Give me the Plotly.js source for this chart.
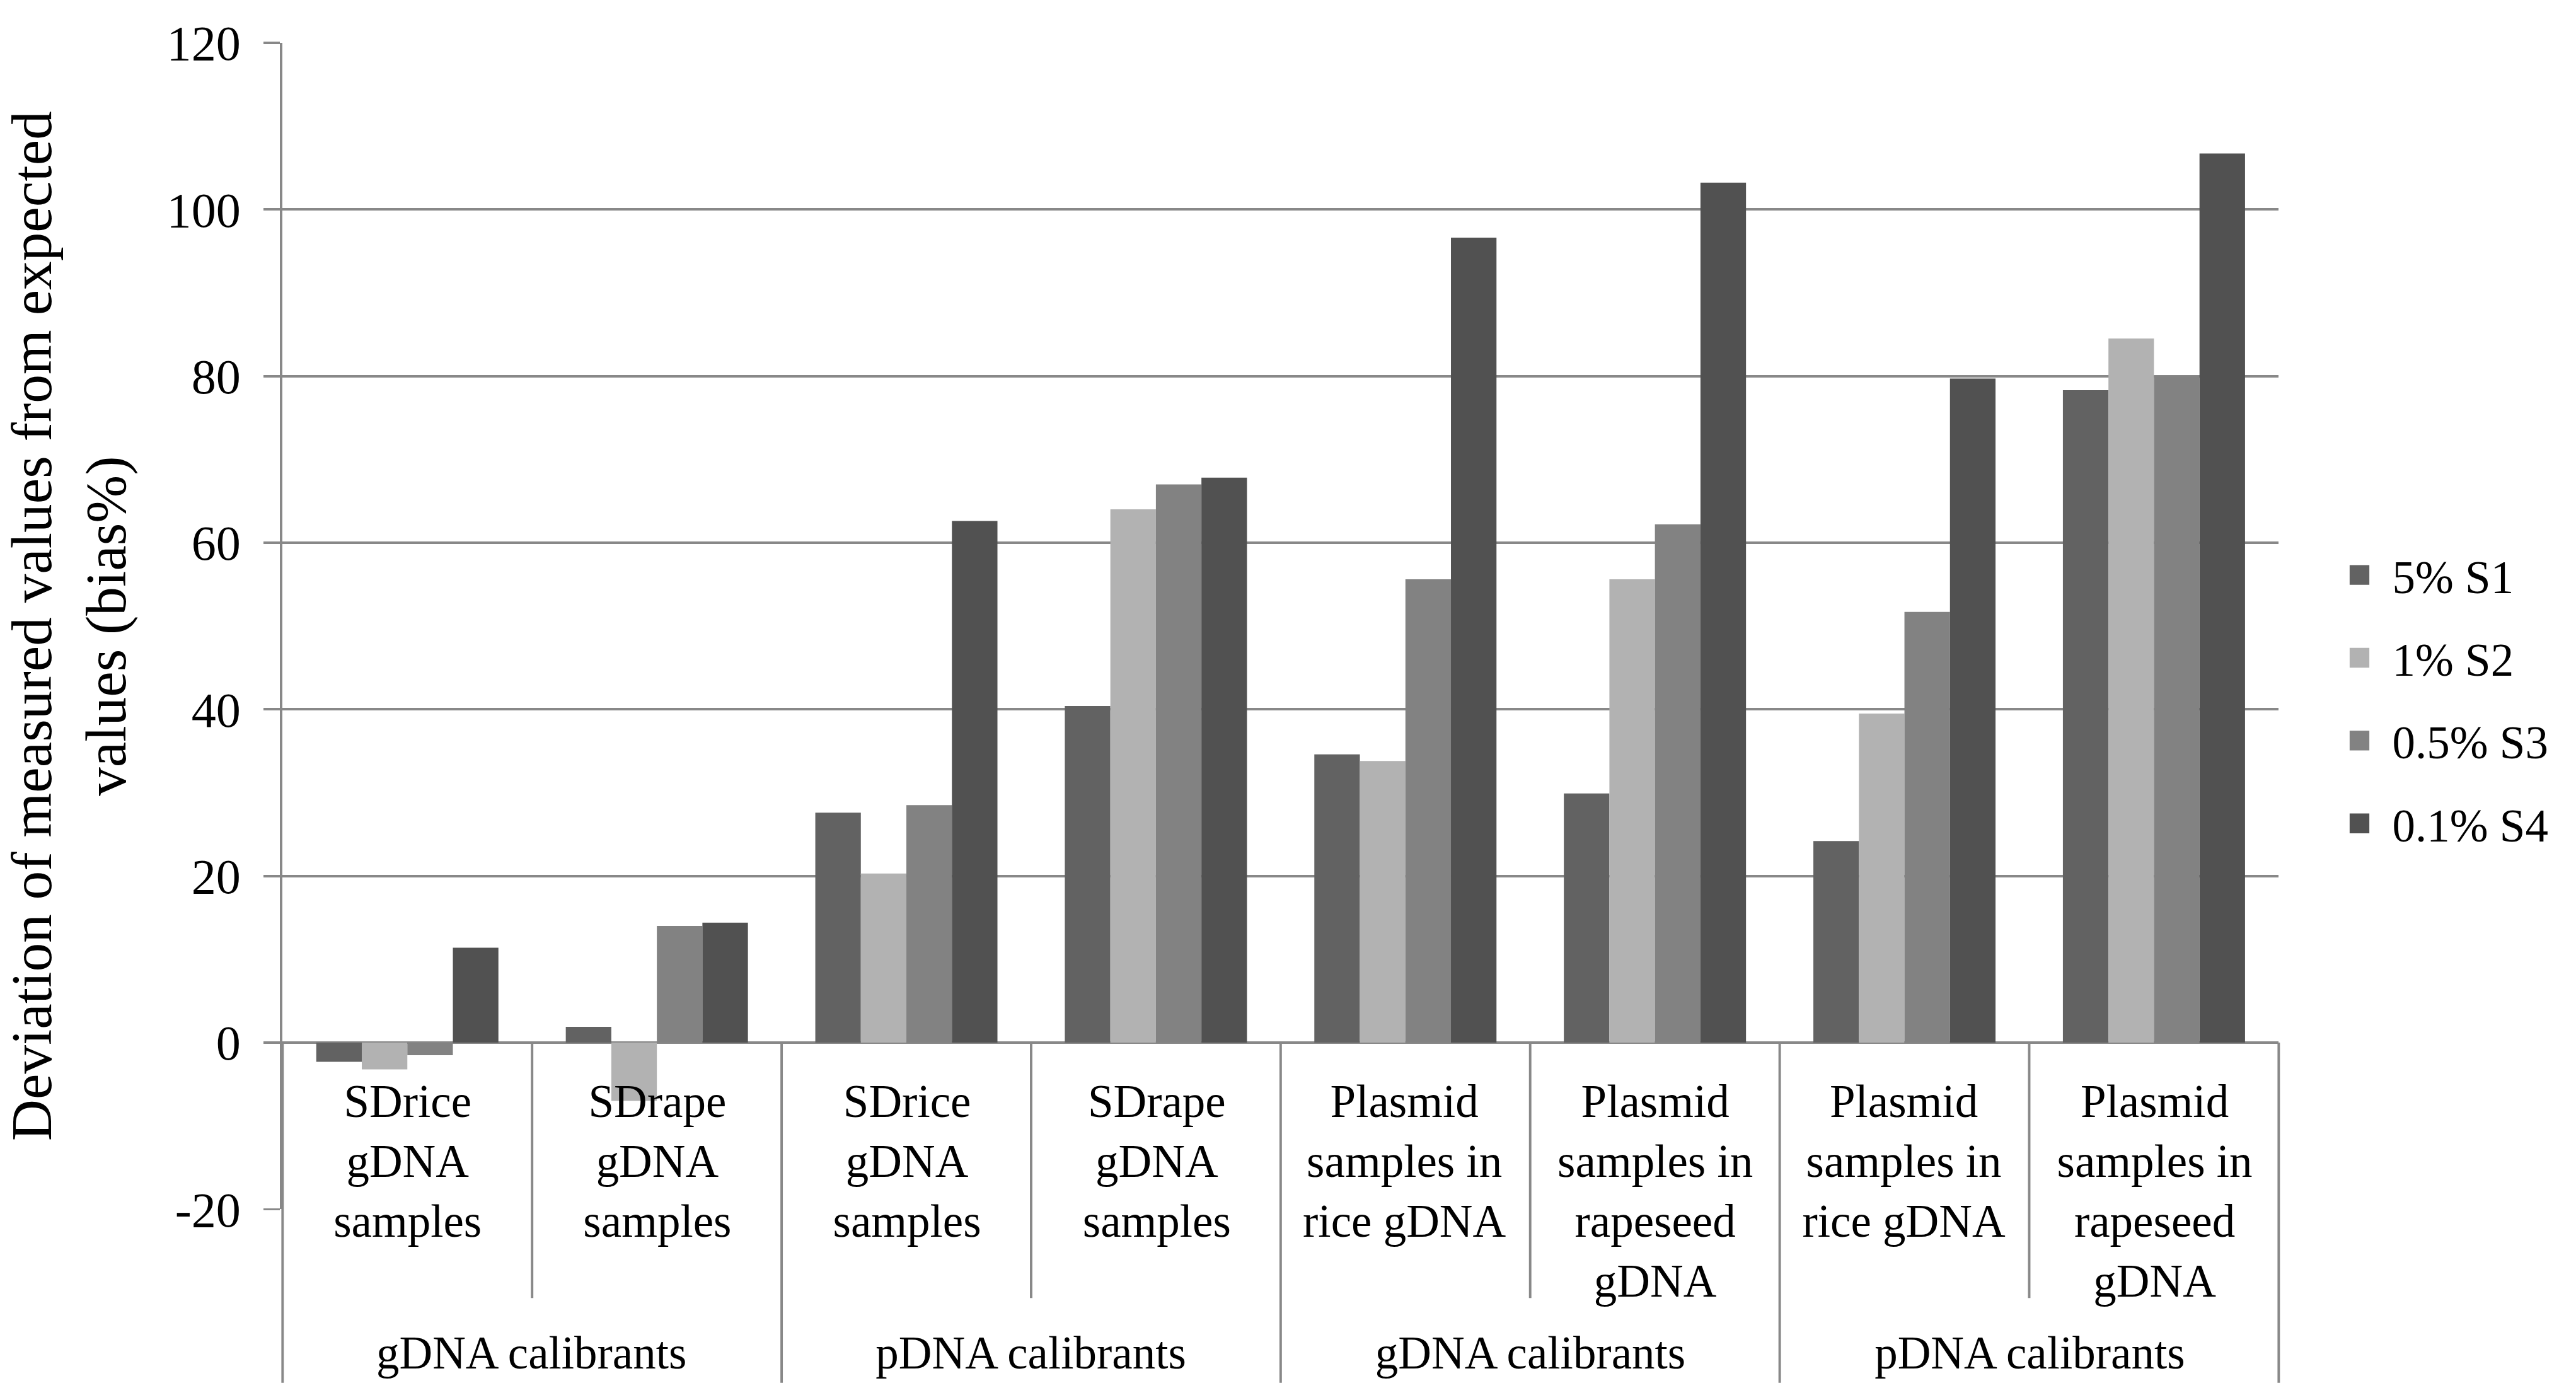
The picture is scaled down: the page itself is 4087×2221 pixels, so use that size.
<!DOCTYPE html>
<html><head><meta charset="utf-8">
<script src="https://cdn.plot.ly/plotly-3.0.1.min.js"></script>
<style>
html,body{margin:0;padding:0;background:#fff;overflow:hidden;}
#wrap{width:4087px;height:2221px;overflow:hidden;background:#fff;}
#chart{width:1568px;height:852px;transform:scale(2.6066);transform-origin:0 0;}
</style></head><body><div id="wrap"><div id="chart"></div></div>
<script>
// ---- data ----
const catKeys = ["gDNA cal | SDrice gDNA samples","gDNA cal | SDrape gDNA samples",
                 "pDNA cal | SDrice gDNA samples","pDNA cal | SDrape gDNA samples",
                 "gDNA cal | Plasmid samples in rice gDNA","gDNA cal | Plasmid samples in rapeseed gDNA",
                 "pDNA cal | Plasmid samples in rice gDNA","pDNA cal | Plasmid samples in rapeseed gDNA"];
const catLabels = ["SDrice<br>gDNA<br>samples","SDrape<br>gDNA<br>samples",
                   "SDrice<br>gDNA<br>samples","SDrape<br>gDNA<br>samples",
                   "Plasmid<br>samples in<br>rice gDNA","Plasmid<br>samples in<br>rapeseed<br>gDNA",
                   "Plasmid<br>samples in<br>rice gDNA","Plasmid<br>samples in<br>rapeseed<br>gDNA"];
const groupLabels = ["gDNA calibrants","pDNA calibrants","gDNA calibrants","pDNA calibrants"];
const seriesNames = ["5% S1","1% S2","0.5% S3","0.1% S4"];
const s1 = [-2.3, 1.9, 27.6, 40.4, 34.6, 29.9, 24.2, 78.3];
const s2 = [-3.2, -7.0, 20.3, 64.0, 33.8, 55.6, 39.5, 84.5];
const s3 = [-1.5, 14.0, 28.5, 67.0, 55.6, 62.2, 51.7, 80.0];
const s4 = [11.4, 14.4, 62.6, 67.8, 96.6, 103.2, 79.7, 106.7];
const yTicks = [-20, 0, 20, 40, 60, 80, 100, 120];
const yTitle = "Deviation of measured values from expected<br>values (bias%)";

// ---- style ----
const colors = ["#626262","#b2b2b2","#828282","#515151"];
const gridC = "#888888";
const FONT = "Liberation Serif";
const yRange = [-20, 120];

const series = [s1, s2, s3, s4];
const traces = series.map((vals, i) => ({
  type: "bar", x: catKeys, y: vals, name: seriesNames[i],
  legendgroup: "g" + i,
  marker: {color: colors[i], line: {width: 0}},
  hoverinfo: "skip"
}));

const nCat = catKeys.length;
const zeroPaper = (0 - yRange[0]) / (yRange[1] - yRange[0]);
const shapes = [];
for (let k = 0; k <= nCat; k++) {
  const isGroup = (k % 2 === 0);
  shapes.push({type: "line", xref: "paper", yref: "paper",
    x0: k / nCat, x1: k / nCat, y0: zeroPaper, y1: isGroup ? -0.1487 : -0.0761,
    line: {color: gridC, width: 1.5}});
}

const annotations = [];
catLabels.forEach((t, i) => annotations.push({
  xref: "x", yref: "paper", x: catKeys[i], y: 0.1175, yanchor: "top", xanchor: "center",
  text: t, showarrow: false, font: {family: FONT, size: 28, color: "#000"}
}));
groupLabels.forEach((t, g) => annotations.push({
  xref: "paper", yref: "paper", x: (2 * g + 1) / nCat, y: -0.1232, yanchor: "middle", xanchor: "center",
  text: t, showarrow: false, font: {family: FONT, size: 28, color: "#000"}
}));

const layout = {
  width: 1568, height: 852,
  margin: {l: 172, r: 177, t: 26, b: 116, pad: 0},
  paper_bgcolor: "#fff", plot_bgcolor: "#fff",
  font: {family: FONT, size: 28, color: "#000"},
  barmode: "group", bargap: 0.27, bargroupgap: 0,
  showlegend: true,
  legend: {x: 1.024, xanchor: "left", y: 0.437, yanchor: "middle",
    traceorder: "grouped", tracegroupgap: 11,
    font: {family: FONT, size: 28, color: "#000"}, bgcolor: "rgba(0,0,0,0)"},
  xaxis: {type: "category", categoryorder: "array", categoryarray: catKeys,
    range: [-0.5, nCat - 0.5], showticklabels: false, ticks: "", showgrid: false,
    zeroline: false, showline: false, fixedrange: true},
  yaxis: {range: yRange, tickmode: "array", tickvals: yTicks, ticktext: yTicks.map(String),
    showgrid: true, gridcolor: gridC, gridwidth: 1.5,
    zeroline: true, zerolinecolor: gridC, zerolinewidth: 1.5,
    showline: true, linecolor: gridC, linewidth: 1.5,
    ticks: "outside", ticklen: 10, tickcolor: gridC, tickwidth: 1.5,
    ticklabelstandoff: 8,
    tickfont: {family: FONT, size: 30, color: "#000"},
    title: {text: yTitle, standoff: 28, font: {family: FONT, size: 35, color: "#000"}},
    automargin: false, fixedrange: true},
  shapes: shapes,
  annotations: annotations
};

Plotly.newPlot("chart", traces, layout, {staticPlot: true, displayModeBar: false});
</script></body></html>
